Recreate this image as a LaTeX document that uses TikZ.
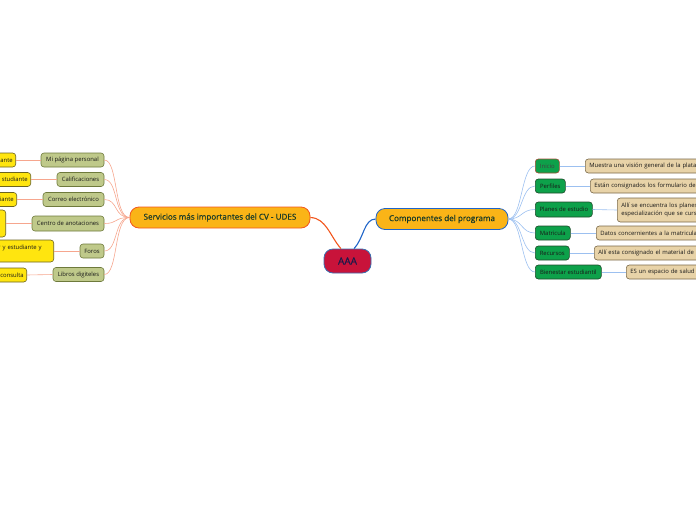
\documentclass[tikz,border=0pt]{standalone}
\usepackage{fontspec}
\setmainfont{Open Sans}
\newfontfamily\medfont[FakeBold=0.6]{Open Sans}
\definecolor{lfill}{HTML}{BFC98A}
\definecolor{ldraw}{HTML}{6E7A3C}
\definecolor{yfill}{HTML}{FFE50F}
\definecolor{ydraw}{HTML}{6B6420}
\definecolor{gfill}{HTML}{0DA14A}
\definecolor{gdraw}{HTML}{1E4A2A}
\definecolor{tfill}{HTML}{E8D3A8}
\definecolor{tdraw}{HTML}{7B6A4A}
\definecolor{mfill}{HTML}{FAB417}
\definecolor{odraw}{HTML}{F2561D}
\definecolor{bdraw}{HTML}{1E64C8}
\definecolor{afill}{HTML}{C8133A}
\definecolor{adraw}{HTML}{3A6FB0}
\definecolor{atext}{HTML}{1A1A4A}
\definecolor{mtext}{HTML}{183A28}
\definecolor{lline}{HTML}{F6A68E}
\definecolor{rline}{HTML}{9CC0F0}
\begin{document}
\begin{tikzpicture}[x=1pt,y=-1pt,
  base/.style={rounded corners=3pt, line width=0.6pt, inner sep=0pt,
    font=\fontsize{5.9}{7.2}\selectfont, text=black!90},
  lchild/.style={base, fill=lfill, draw=ldraw, minimum height=14pt},
  ygc/.style={base, fill=yfill, draw=ydraw, minimum height=14pt, anchor=east,
    align=right, inner xsep=3pt, text width=60pt},
  rchild/.style={base, fill=gfill, draw=gdraw, minimum height=14pt, anchor=west,
    inner xsep=3pt},
  tgc/.style={base, fill=tfill, draw=tdraw, minimum height=14pt, anchor=west,
    align=left, inner xsep=4pt, text width=160pt},
  mainnode/.style={rounded corners=9pt, line width=0.8pt, fill=mfill,
    minimum height=21pt, inner sep=0pt, text=mtext,
    font=\medfont\fontsize{8.1}{9.5}\selectfont},
  ll/.style={draw=lline, line width=0.6pt},
  rl/.style={draw=rline, line width=0.6pt}]
\useasboundingbox (0,0) rectangle (696,520);
\clip (0,0) rectangle (696,520);

% central
\node[rounded corners=9pt, line width=0.8pt, fill=afill, draw=adraw,
  minimum width=47pt, minimum height=24pt, inner sep=0pt, text=atext,
  font=\medfont\fontsize{10}{11}\selectfont] (aaa) at (347.5,261) {AAA};
\node[mainnode, draw=odraw, minimum width=180pt] (srv) at (220,217.5)
  {Servicios más importantes del CV - UDES};
\node[mainnode, draw=bdraw, minimum width=132pt] (cmp) at (442,219)
  {Componentes del programa};

\draw[odraw, line width=1.1pt] (srv.east) .. controls (326,218) and (330,236) .. (aaa.118);
\draw[bdraw, line width=1.1pt] (aaa.62) .. controls (364,238) and (364,219) .. (cmp.west);

% left children
\node[lchild, minimum width=63pt] (c1) at (72.5,160) {Mi página personal};
\node[lchild, minimum width=47pt] (c2) at (80.5,179.5) {Calificaciones};
\node[lchild, minimum width=61pt] (c3) at (73.5,199.5) {Correo electrónico};
\node[lchild, minimum width=72pt, minimum height=15pt] (c4) at (68,223.5) {Centro de anotaciones};
\node[lchild, minimum width=24pt] (c5) at (92,251) {Foros};
\node[lchild, minimum width=51pt] (c6) at (78.5,274.5) {Libros digiteles};

\foreach \c in {c1,c2,c3,c4,c5,c6}
  \draw[ll] (srv.west) .. controls +(-16,0) and +(14,0) .. (\c.east);

% left grandchildren
\node[ygc] (g1) at (16,160) {iante};
\node[ygc] (g2) at (31,179.5) {studiante};
\node[ygc] (g3) at (17,199.5) {iante};
\node[ygc, minimum height=27pt] (g4) at (6,223.5) {\mbox{}};
\node[ygc, minimum height=22pt, text width=80pt] (g5) at (54,251)
  {r y estudiante y\rule{9pt}{0pt}\\\mbox{}};
\node[ygc] (g6) at (27,275) {consulta};

\draw[ll] (c1.west) -- (g1.east);
\draw[ll] (c2.west) -- (g2.east);
\draw[ll] (c3.west) -- (g3.east);
\draw[ll] (c4.west) -- (g4.east);
\draw[ll] (c5.west) -- (g5.east);
\draw[ll] (c6.west) -- (g6.east);

% right children
\node[rchild, draw=tdraw!70!red, minimum width=24pt, text=black!75] (r1) at (535,166) {Inicio};
\node[rchild, minimum width=30pt] (r2) at (535,186) {Perfiles};
\node[rchild, minimum width=57pt, minimum height=15pt] (r3) at (535,209.5) {Planes de estudio};
\node[rchild, minimum width=35pt] (r4) at (535,233) {Matricula};
\node[rchild, minimum width=34pt] (r5) at (535,253) {Recursos};
\node[rchild, minimum width=66pt] (r6) at (535,272) {Bienestar estudiantil};

\foreach \c in {r1,r2,r3,r4,r5,r6}
  \draw[rl] (cmp.east) .. controls +(14,0) and +(-14,0) .. (\c.west);

% right grandchildren
\node[tgc] (t1) at (585,166) {Muestra una visión general de la plataforma};
\node[tgc] (t2) at (590,186) {Están consignados los formulario de inscripción};
\node[tgc, minimum height=24pt] (t3) at (617,210)
  {Allí se encuentra los planes de estudio\\especialización que se cursa};
\node[tgc] (t4) at (596,233) {Datos concernientes a la matricula};
\node[tgc] (t5) at (594,253) {Allí esta consignado el material de estudio};
\node[tgc] (t6) at (626,272) {ES un espacio de salud y bienestar};

\draw[rl] (r1.east) -- (t1.west);
\draw[rl] (r2.east) -- (t2.west);
\draw[rl] (r3.east) -- (t3.west);
\draw[rl] (r4.east) -- (t4.west);
\draw[rl] (r5.east) -- (t5.west);
\draw[rl] (r6.east) -- (t6.west);
\end{tikzpicture}
\end{document}
